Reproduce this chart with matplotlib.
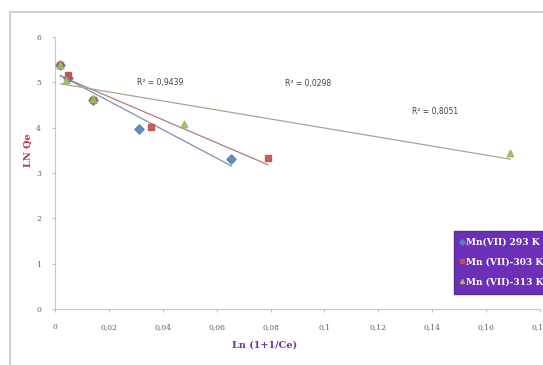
import numpy as np
import matplotlib
matplotlib.use("Agg")
import matplotlib.pyplot as plt
from matplotlib.patches import Rectangle
from matplotlib.lines import Line2D

# Data
x_293 = [0.002, 0.005, 0.014, 0.031, 0.0655]
y_293 = [5.38, 5.10, 4.62, 3.98, 3.30]
x_303 = [0.002, 0.005, 0.014, 0.0355, 0.079]
y_303 = [5.38, 5.16, 4.62, 4.02, 3.33]
x_313 = [0.002, 0.004, 0.014, 0.048, 0.169]
y_313 = [5.38, 5.05, 4.64, 4.07, 3.44]
labels = ["Mn(VII) 293 K", "Mn (VII)-303 K", "Mn (VII)-313 K"]
r2_labels = ["R² = 0,9439", "R² = 0,0298", "R² = 0,8051"]
xticks = [0, 0.02, 0.04, 0.06, 0.08, 0.1, 0.12, 0.14, 0.16, 0.18]
xticklabels = ["0", "0,02", "0,04", "0,06", "0,08", "0,1", "0,12", "0,14", "0,16", "0,18"]
yticks = [0, 1, 2, 3, 4, 5, 6]

colors = ["#4f81bd", "#c0504d", "#9bbb59"]
line_colors = ["#7f8fb0", "#b07a80", "#a0a890"]
markers = ["D", "s", "^"]

fig = plt.figure(figsize=(5.43, 3.65), dpi=100)
fig.patch.set_facecolor("white")
fig.add_artist(Rectangle((10/543, -0.01), 1.0, 1 - 12/365 + 0.01,
                         transform=fig.transFigure, fill=False,
                         edgecolor="#c8c8c8", linewidth=1.2))

ax = fig.add_axes([55/543, 1 - 309/365, 485/543, (309 - 37)/365])
ax.set_xlim(0, 0.18)
ax.set_ylim(0, 6)

series = [(x_293, y_293), (x_303, y_303), (x_313, y_313)]
for (xs, ys), c, lc, m in zip(series, colors, line_colors, markers):
    xs = np.array(xs); ys = np.array(ys)
    k, b = np.polyfit(xs, ys, 1)
    xx = np.array([xs.min(), xs.max()])
    ax.plot(xx, k * xx + b, color=lc, linewidth=0.9, zorder=2)
    ax.scatter(xs, ys, marker=m, s=22, color=c, edgecolor=c, zorder=3, alpha=0.9)

ax.text(0.0305, 5.0, r2_labels[0], fontsize=5.5, color="#404040", ha="left", va="center")
ax.text(0.0855, 4.98, r2_labels[1], fontsize=5.5, color="#404040", ha="left", va="center")
ax.text(0.1325, 4.36, r2_labels[2], fontsize=5.5, color="#404040", ha="left", va="center")

ax.set_xticks(xticks)
ax.set_xticklabels(xticklabels, fontsize=5.5, color="#606060", family="DejaVu Serif")
ax.set_yticks(yticks)
ax.set_yticklabels([str(v) for v in yticks], fontsize=5.5, color="#606060", family="DejaVu Serif")
ax.tick_params(length=2, color="#c0c0c0", pad=8)
for s in ["top", "right"]:
    ax.spines[s].set_visible(False)
for s in ["left", "bottom"]:
    ax.spines[s].set_color("#c8c8c8")
    ax.spines[s].set_linewidth(0.8)

fig.text(28/543, 1 - 150/365, "LN Qe", rotation=90, color="#c0304a", fontsize=7,
         fontweight="bold", family="DejaVu Serif", ha="center", va="center")
fig.text(265/543, 1 - 345/365, "Ln (1+1/Ce)", color="#7030a0", fontsize=7,
         fontweight="bold", family="DejaVu Serif", ha="center", va="center")

handles = [Line2D([], [], linestyle="none", marker=m, color=c, markersize=3)
           for m, c in zip(markers, colors)]
leg = fig.legend(handles, labels, loc="upper left",
                 bbox_to_anchor=(449/543, 1 - 226/365), bbox_transform=fig.transFigure,
                 frameon=True, fancybox=False, handlelength=0.3, handletextpad=0.3,
                 borderpad=0.8, labelspacing=1.2,
                 prop={"family": "DejaVu Serif", "weight": "bold", "size": 6.5})
leg.get_frame().set_facecolor("#6b2fb8")
leg.get_frame().set_edgecolor("#5a2a9a")
leg.get_frame().set_alpha(1)
for t in leg.get_texts():
    t.set_color("white")

fig.savefig("out.png", dpi=100)
